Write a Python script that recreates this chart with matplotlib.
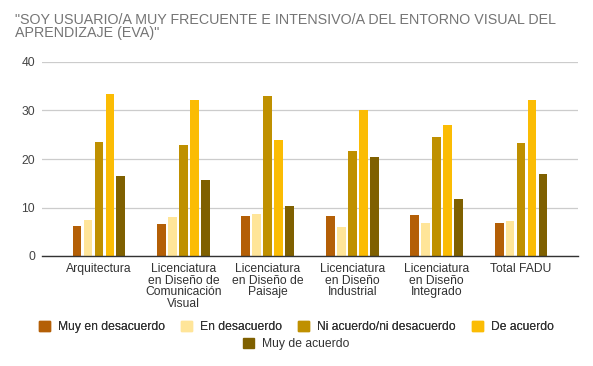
import numpy as np
import matplotlib
matplotlib.use("Agg")
import matplotlib.pyplot as plt
import matplotlib.patches as mpatches

plt.rcParams["font.family"] = ["Liberation Sans", "DejaVu Sans"]

TITLE = ('"SOY USUARIO/A MUY FRECUENTE E INTENSIVO/A DEL ENTORNO VISUAL DEL\n'
         'APRENDIZAJE (EVA)"')

CATEGORIES = [
    "Arquitectura",
    "Licenciatura\nen Diseño de\nComunicación\nVisual",
    "Licenciatura\nen Diseño de\nPaisaje",
    "Licenciatura\nen Diseño\nIndustrial",
    "Licenciatura\nen Diseño\nIntegrado",
    "Total FADU",
]
SERIES = [
    "Muy en desacuerdo",
    "En desacuerdo",
    "Ni acuerdo/ni desacuerdo",
    "De acuerdo",
    "Muy de acuerdo",
]
COLORS = ["#b45f06", "#ffe599", "#bf9000", "#fbbc04", "#7f6000"]

muy_en_desacuerdo = [6.2, 6.6, 8.2, 8.2, 8.4, 6.8]
en_desacuerdo     = [7.4, 8.0, 8.7, 6.0, 6.8, 7.2]
ni_acuerdo        = [23.5, 22.9, 33.0, 21.6, 24.5, 23.3]
de_acuerdo        = [33.4, 32.2, 23.9, 30.1, 27.0, 32.2]
muy_de_acuerdo    = [16.5, 15.7, 10.3, 20.4, 11.8, 16.9]
VALUES = [muy_en_desacuerdo, en_desacuerdo, ni_acuerdo, de_acuerdo, muy_de_acuerdo]

Y_TICKS = [0, 10, 20, 30, 40]
FS = 8.7

fig = plt.figure(figsize=(5.93, 3.66), dpi=100)
ax = fig.add_axes([42 / 593, 1 - 256 / 366, 536 / 593, 194 / 366])

x = np.arange(len(CATEGORIES))
pitch = 0.13
width = 0.105
for i, (vals, col) in enumerate(zip(VALUES, COLORS)):
    ax.bar(x + (i - 2) * pitch, vals, width=width, color=col, zorder=3)

ax.set_xlim(-0.675, 5.675)
ax.set_ylim(0, 40)
ax.set_yticks(Y_TICKS)
ax.set_yticklabels([str(t) for t in Y_TICKS], fontsize=FS, color="#444444")
ax.set_xticks(x)
ax.set_xticklabels(CATEGORIES, fontsize=FS, color="#333333", linespacing=0.96,
                   va="top")
ax.tick_params(axis="both", length=0)
ax.tick_params(axis="x", pad=5)
ax.tick_params(axis="y", pad=5)
ax.grid(axis="y", color="#cccccc", lw=0.9, zorder=0)
for s in ["top", "right", "left"]:
    ax.spines[s].set_visible(False)
ax.spines["bottom"].set_color("#333333")
ax.spines["bottom"].set_linewidth(1.0)
ax.spines["bottom"].set_zorder(4)

fig.text(15 / 593, 1 - 13 / 366, TITLE, fontsize=10.3, color="#757575",
         va="top", ha="left", linespacing=0.95)

handles = [mpatches.Patch(color=c, label=s) for s, c in zip(SERIES, COLORS)]
leg_kw = dict(loc="center", frameon=False, fontsize=FS, handlelength=0.9,
              handleheight=0.9, handletextpad=0.7, columnspacing=1.3,
              labelcolor="#333333", borderpad=0, borderaxespad=0)
leg1 = fig.legend(handles=handles[:4], ncol=4,
                  bbox_to_anchor=(0.5, 1 - 327 / 366), **leg_kw)
fig.add_artist(leg1)
fig.legend(handles=handles[4:], ncol=1,
           bbox_to_anchor=(0.5, 1 - 344 / 366), **leg_kw)

fig.savefig("out.png", dpi=100)
